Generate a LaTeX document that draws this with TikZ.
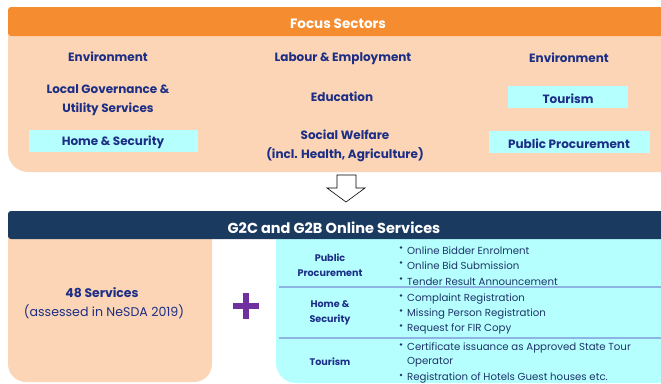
\documentclass[tikz,border=0pt]{standalone}
\usepackage{fontspec}
\setmainfont{Poppins}
\definecolor{hdrorange}{HTML}{F58D30}
\definecolor{peach}{HTML}{FBD5B5}
\definecolor{cyanbox}{HTML}{B5FFFF}
\definecolor{navy}{HTML}{1B3A5F}
\definecolor{txtblue}{HTML}{1C2E85}
\definecolor{bultxt}{HTML}{1F3468}
\definecolor{plusc}{HTML}{7030A0}
\definecolor{divline}{HTML}{8DB4E2}
\tikzset{
  sect/.style={font=\bfseries\fontsize{12}{18.5}\selectfont, text=txtblue, align=center, inner sep=0pt},
  hdr/.style={font=\bfseries\fontsize{13.5}{16}\selectfont, text=white, inner sep=0pt},
  hl/.style={fill=cyanbox},
  bul/.style={font=\fontsize{10.2}{12}\selectfont, text=bultxt, anchor=west, inner sep=0pt},
  bdot/.style={circle, fill=bultxt, inner sep=0pt, minimum size=2.6pt},
  lbl/.style={font=\bfseries\fontsize{9.6}{15}\selectfont, text=txtblue, align=center, inner sep=0pt},
}
\begin{document}
\begin{tikzpicture}[x=1pt,y=-1pt]
\useasboundingbox (0,0) rectangle (661,383);
\clip (0,0) rectangle (661,383);
% top panel
\fill[peach, rounded corners=20pt] (8,7) rectangle (700,172);
\fill[hdrorange, rounded corners=3pt] (8,7) rectangle (700,36);
\node[hdr] (fs) at (338,23.5) {Focus Sectors};
\fill[hl] (29,130) rectangle (198,152);
\fill[hl] (508,86) rectangle (628,108);
\fill[hl] (489,131) rectangle (650,153);
\node[sect] (env1) at (108,57) {Environment};
\node[sect] (lab) at (343,58.5) {Labour \& Employment};
\node[sect] (env2) at (569,58) {Environment};
\node[sect] (loc) at (108,100) {Local Governance \&\\Utility Services};
\node[sect] (edu) at (342,96.5) {Education};
\node[sect] (tour) at (568,98.5) {Tourism};
\node[sect] (home) at (113,142.5) {Home \& Security};
\node[sect] (soc) at (345,146) {Social Welfare\\(incl. Health, Agriculture)};
\node[sect] (pp) at (569,144) {Public Procurement};
% arrow
\draw[black, fill=white, line width=0.6pt, line join=miter] (337,175) -- (356,175) -- (356,188) -- (365,188) -- (346,202) -- (327,188) -- (337,188) -- cycle;
% bottom panel
\fill[peach, rounded corners=18pt] (8,211) rectangle (212,382);
\fill[cyanbox, rounded corners=20pt] (276,211) rectangle (720,383);
\fill[navy, rounded corners=3pt] (8,211) rectangle (700,239);
\node[hdr, font=\bfseries\fontsize{14.5}{16}\selectfont] (g2c) at (334,227.5) {G2C and G2B Online Services};
\node[sect, font=\bfseries\fontsize{12.4}{14}\selectfont] (s48) at (102,293) {48 Services};
\node[sect, font=\fontsize{12.6}{14}\selectfont] (ass) at (104,312) {(assessed in NeSDA 2019)};
\node[text=plusc, inner sep=0pt] (plus) at (246,306) {\tikz[x=1pt,y=1pt]{\fill (-13,-3) rectangle (13,3); \fill (-3,-13) rectangle (3,13);}};
\draw[divline, line width=1.1pt] (279,287) -- (661,287);
\draw[divline, line width=1.1pt] (279,338) -- (661,338);
\node[lbl] (lpp) at (330,265) {Public\\Procurement};
\node[lbl] (lhs) at (330,313) {Home \&\\Security};
\node[lbl] (lt) at (330,362) {Tourism};
\foreach \y/\t [count=\i] in {250.5/Online Bidder Enrolment, 265.5/Online Bid Submission, 281.5/Tender Result Announcement, 298.5/Complaint Registration, 313.5/Missing Person Registration, 328.5/Request for FIR Copy, 347.5/Certificate issuance as Approved State Tour, 378/Registration of Hotels Guest houses etc.}{
  \node[bdot] (d\i) at (401,\y-3) {};
  \node[bul] (b\i) at (407,\y) {\t};
}
\node[bul] (op) at (407,362.5) {Operator};
\end{tikzpicture}
\end{document}
